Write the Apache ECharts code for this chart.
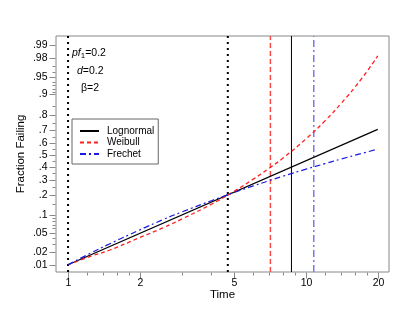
<!DOCTYPE html>
<html><head><meta charset="utf-8">
<script src="https://cdn.jsdelivr.net/npm/echarts@6/dist/echarts.min.js"></script>
<style>html,body{margin:0;padding:0;background:#fff}#c{width:415px;height:321px}</style>
</head><body><div id="c"></div>
<script>
const FONT = '"Liberation Sans Narrow","Liberation Sans",Arial,sans-serif';

// ---- data ----
const timePoints = [1, 1.25, 1.5, 2, 2.5, 3, 4, 5, 6, 7, 8, 10, 12, 14, 17, 20];
const weibullF   = [.01, .016, .022, .04, .061, .087, .148, .222, .304, .389, .474, .634, .765, .861, .945, .982];
const frechetF   = [.01, .019, .030, .056, .085, .113, .166, .214, .256, .293, .326, .382, .427, .465, .511, .549];
const lognormalT = [1, 20];
const lognormalF = [.01, .706];
const dottedTimes = [1, 4.69];
const weibullVLine = 7.08;
const lognormalVLine = 8.68;
const frechetVLine = 10.77;

const xMajorTicks = [1, 2, 5, 10, 20];
const xMajorLabels = ['1', '2', '5', '10', '20'];
const xMinorTicks = [1.2, 1.4, 1.6, 1.8, 3, 4, 6, 7, 8, 9, 12, 14, 16, 18];
const yMajorTicks = [.01, .02, .05, .1, .2, .3, .4, .5, .6, .7, .8, .9, .95, .98, .99];
const yMajorLabels = ['.01', '.02', '.05', '.1', '.2', '.3', '.4', '.5', '.6', '.7', '.8', '.9', '.95', '.98', '.99'];
const yMinorTicks = [.03, .04, .06, .07, .08, .09, .15, .25, .35, .45, .55, .65, .75, .85, .91, .92, .93, .94, .96, .97];

const X_MIN = 0.89, X_MAX = 22.3;
const Y_MIN = -2.48, Y_MAX = 2.52;

// inverse standard normal CDF (probability-paper scale)
function probit(p) {
  const a = [-3.969683028665376e+01, 2.209460984245205e+02, -2.759285104469687e+02, 1.383577518672690e+02, -3.066479806614716e+01, 2.506628277459239e+00];
  const b = [-5.447609879822406e+01, 1.615858368580409e+02, -1.556989798598866e+02, 6.680131188771972e+01, -1.328068155288572e+01];
  const c = [-7.784894002430293e-03, -3.223964580411365e-01, -2.400758277161838e+00, -2.549732539343734e+00, 4.374664141464968e+00, 2.938163982698783e+00];
  const d = [7.784695709041462e-03, 3.224671290700398e-01, 2.445134137142996e+00, 3.754408661907416e+00];
  const pl = 0.02425;
  let q, r;
  if (p < pl) {
    q = Math.sqrt(-2 * Math.log(p));
    return (((((c[0]*q+c[1])*q+c[2])*q+c[3])*q+c[4])*q+c[5]) / ((((d[0]*q+d[1])*q+d[2])*q+d[3])*q+1);
  } else if (p <= 1 - pl) {
    q = p - 0.5; r = q*q;
    return (((((a[0]*r+a[1])*r+a[2])*r+a[3])*r+a[4])*r+a[5])*q / (((((b[0]*r+b[1])*r+b[2])*r+b[3])*r+b[4])*r+1);
  } else {
    q = Math.sqrt(-2 * Math.log(1 - p));
    return -(((((c[0]*q+c[1])*q+c[2])*q+c[3])*q+c[4])*q+c[5]) / ((((d[0]*q+d[1])*q+d[2])*q+d[3])*q+1);
  }
}

const pairs = (ts, ps) => ts.map((t, i) => [t, probit(ps[i])]);
const vline = t => [[t, Y_MIN], [t, Y_MAX]];

const GRAY = '#888';
const tickFont = '10.5px ' + FONT;

function yTickSeries(ticks, labels, len) {
  return {
    type: 'custom', silent: true, clip: false, z: 10,
    data: ticks.map(p => [X_MIN, probit(p)]),
    renderItem: (params, api) => {
      const pt = api.coord([api.value(0), api.value(1)]);
      const x = Math.round(pt[0]) - 0.5, y = Math.round(pt[1]) + 0.5;
      const children = [{ type: 'line', shape: { x1: x - len, y1: y, x2: x, y2: y }, style: { stroke: GRAY, lineWidth: 1 } }];
      if (labels) children.push({ type: 'text', x: x - 8, y: y, style: { text: labels[params.dataIndex], textAlign: 'right', textVerticalAlign: 'middle', font: tickFont, fill: '#000' } });
      return { type: 'group', children };
    }
  };
}
function xTickSeries(ticks, labels, len) {
  return {
    type: 'custom', silent: true, clip: false, z: 10,
    data: ticks.map(t => [t, Y_MIN]),
    renderItem: (params, api) => {
      const pt = api.coord([api.value(0), api.value(1)]);
      const x = Math.round(pt[0]) + 0.5, y = Math.round(pt[1]) + 0.5;
      const children = [{ type: 'line', shape: { x1: x, y1: y, x2: x, y2: y + len }, style: { stroke: GRAY, lineWidth: 1 } }];
      if (labels) children.push({ type: 'text', x: x, y: y + 11, style: { text: labels[params.dataIndex], textAlign: 'center', textVerticalAlign: 'middle', font: tickFont, fill: '#000' } });
      return { type: 'group', children };
    }
  };
}

const plain = { symbol: 'none', silent: true, animation: false };
const noIcon = { color: 'transparent', borderColor: 'transparent', borderWidth: 0, opacity: 0 };

const chart = echarts.init(document.getElementById('c'), null, { renderer: 'canvas' });
chart.setOption({
  animation: false,
  backgroundColor: '#fff',
  grid: { left: 56, right: 26, top: 36, bottom: 49, show: true, borderColor: GRAY, borderWidth: 1, backgroundColor: 'transparent' },
  xAxis: {
    type: 'log', min: X_MIN, max: X_MAX,
    axisLine: { show: false }, axisTick: { show: false }, axisLabel: { show: false }, splitLine: { show: false },
    name: 'Time', nameLocation: 'middle', nameGap: 17,
    nameTextStyle: { fontFamily: FONT, fontSize: 11.5, color: '#000' }
  },
  yAxis: {
    type: 'value', min: Y_MIN, max: Y_MAX,
    axisLine: { show: false }, axisTick: { show: false }, axisLabel: { show: false }, splitLine: { show: false },
    name: 'Fraction Failing', nameLocation: 'middle', nameGap: 29, nameRotate: 90,
    nameTextStyle: { fontFamily: FONT, fontSize: 11.5, color: '#000' }
  },
  legend: {
    left: 72, top: 119, orient: 'vertical',
    data: [
      { name: 'Lognormal', itemStyle: noIcon },
      { name: 'Weibull', itemStyle: noIcon },
      { name: 'Frechet', itemStyle: noIcon }
    ],
    itemWidth: 19, itemHeight: 8, itemGap: 0.5,
    padding: [6.5, 4, 4.5, 7],
    borderColor: '#666', borderWidth: 1,
    textStyle: { fontFamily: FONT, fontSize: 10, lineHeight: 11, color: '#000', padding: [0, 0, 0, 3] },
    selectedMode: false
  },
  graphic: [
    { type: 'text', left: 72, top: 48, style: { text: '{i|pf}{s|1}=0.2', font: '10.5px ' + FONT, fill: '#000',
      rich: { i: { fontStyle: 'italic', fontFamily: FONT, fontSize: 10.5 }, s: { fontFamily: FONT, fontSize: 8, verticalAlign: 'bottom', padding: [4, 0, 0, 0] } } } },
    { type: 'text', left: 77, top: 66, style: { text: '{i|d}=0.2', font: '10.5px ' + FONT, fill: '#000',
      rich: { i: { fontStyle: 'italic', fontFamily: FONT, fontSize: 10.5 } } } },
    { type: 'text', left: 81, top: 83, style: { text: 'β=2', font: '10.5px ' + FONT, fill: '#000' } }
  ],
  series: [
    Object.assign({ type: 'line', name: 'dot1', data: vline(dottedTimes[0]), lineStyle: { color: '#000', width: 2, type: [2, 4] } }, plain),
    Object.assign({ type: 'line', name: 'dot2', data: vline(dottedTimes[1]), lineStyle: { color: '#000', width: 2, type: [2, 4] } }, plain),
    Object.assign({ type: 'line', name: 'wv', data: vline(weibullVLine), lineStyle: { color: '#ff4a4a', width: 1.5, type: [5, 3] } }, plain),
    Object.assign({ type: 'line', name: 'lv', data: vline(lognormalVLine), lineStyle: { color: '#000', width: 1 } }, plain),
    Object.assign({ type: 'line', name: 'fv', data: vline(frechetVLine), lineStyle: { color: '#7878f0', width: 1.5, type: [7, 3, 2, 3] } }, plain),
    Object.assign({ type: 'line', name: 'Lognormal', data: pairs(lognormalT, lognormalF), color: '#000', lineStyle: { color: '#000', width: 1.2 } }, plain),
    Object.assign({ type: 'line', name: 'Weibull', data: pairs(timePoints, weibullF), smooth: true, color: '#ff2020', lineStyle: { color: '#ff2020', width: 1.3, type: [4, 3] } }, plain),
    Object.assign({ type: 'line', name: 'Frechet', data: pairs(timePoints, frechetF), smooth: true, color: '#1a1ae0', lineStyle: { color: '#1a1ae0', width: 1.2, type: [6, 3, 2, 3] } }, plain),
    yTickSeries(yMajorTicks, yMajorLabels, 6),
    yTickSeries(yMinorTicks, null, 3),
    xTickSeries(xMajorTicks, xMajorLabels, 6),
    xTickSeries(xMinorTicks, null, 3)
  ]
});
</script></body></html>
